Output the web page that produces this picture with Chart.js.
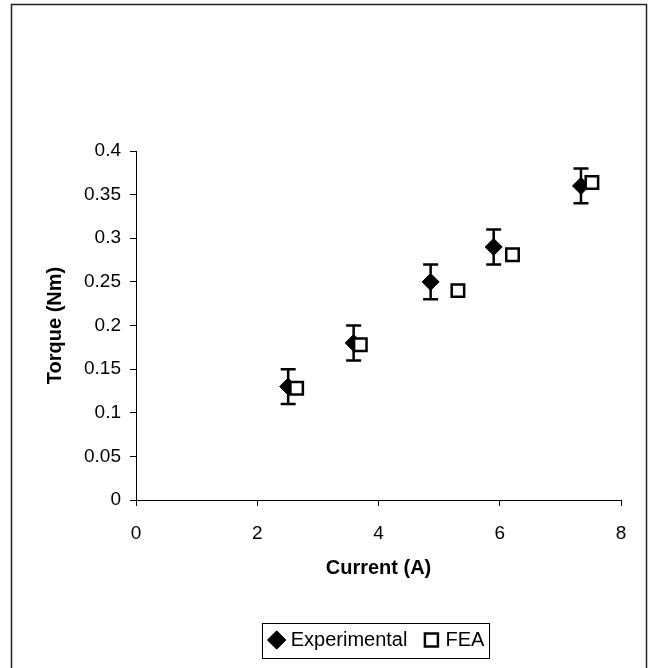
<!DOCTYPE html>
<html lang="en">
<head>
  <meta charset="UTF-8" />
  <title>Torque vs Current</title>
  <script src="https://cdn.jsdelivr.net/npm/chart.js"></script>
  <style>
    body {
      margin: 0;
      background: #fff;
    }
    canvas {
      display: block;
    }
  </style>
</head>
<body>
  <canvas id="myChart" width="650" height="668"></canvas>

  <script>
    // experimental points (with +/- error)
    const expCurrent = [2.51, 3.59, 4.86, 5.90, 7.34];
    const expTorque = [0.13, 0.18, 0.25, 0.29, 0.36];
    const expError = [0.02, 0.02, 0.02, 0.02, 0.02];

    // FEA points
    const feaCurrent = [2.65, 3.70, 5.31, 6.21, 7.52];
    const feaTorque = [0.128, 0.178, 0.240, 0.281, 0.364];

    const xTicks = [0, 2, 4, 6, 8];
    const yTicks = [0, 0.05, 0.1, 0.15, 0.2, 0.25, 0.3, 0.35, 0.4];

    const fontName = "'Liberation Sans', Arial, sans-serif";

    function toPoints(xs, ys) {
      return xs.map((x, i) => ({ x: x, y: ys[i] }));
    }

    // error bars for the experimental set
    const errorBars = {
      id: 'errorBars',
      beforeDatasetsDraw(chart) {
        const ctx = chart.ctx;
        const xs = chart.scales.x;
        const ys = chart.scales.y;
        ctx.save();
        ctx.strokeStyle = '#000';
        ctx.lineWidth = 2.5;
        for (let i = 0; i < expCurrent.length; i++) {
          const px = xs.getPixelForValue(expCurrent[i]);
          const top = ys.getPixelForValue(expTorque[i] + expError[i]);
          const bot = ys.getPixelForValue(expTorque[i] - expError[i]);
          ctx.beginPath();
          ctx.moveTo(px, top);
          ctx.lineTo(px, bot);
          ctx.moveTo(px - 7.5, top);
          ctx.lineTo(px + 7.5, top);
          ctx.moveTo(px - 7.5, bot);
          ctx.lineTo(px + 7.5, bot);
          ctx.stroke();
        }
        ctx.restore();
      }
    };

    // outer frame and legend box
    const frames = {
      id: 'frames',
      afterDraw(chart) {
        const ctx = chart.ctx;
        ctx.save();
        ctx.strokeStyle = '#222';
        ctx.lineWidth = 1.5;
        ctx.strokeRect(11.5, 4.5, 635, 700);

        const boxes = chart.legend.legendHitBoxes;
        if (boxes && boxes.length) {
          let l = Infinity, r = -Infinity, t = Infinity, b = -Infinity;
          boxes.forEach(hb => {
            l = Math.min(l, hb.left);
            r = Math.max(r, hb.left + hb.width);
            t = Math.min(t, hb.top);
            b = Math.max(b, hb.top + hb.height);
          });
          ctx.lineWidth = 1;
          ctx.strokeStyle = '#000';
          ctx.strokeRect(Math.round(l - 11) + 0.5, Math.round(t - 7) + 0.5,
                         Math.round(r - l + 15), Math.round(b - t + 15));
        }
        ctx.restore();
      }
    };

    const ctx = document.getElementById('myChart').getContext('2d');
    const chart = new Chart(ctx, {
      type: 'scatter',
      data: {
        datasets: [
          {
            label: 'Experimental',
            data: toPoints(expCurrent, expTorque),
            pointStyle: 'rectRot',
            pointRadius: 8.5,
            pointHoverRadius: 8.5,
            backgroundColor: '#000',
            borderColor: '#000',
            borderWidth: 1,
            order: 1
          },
          {
            label: 'FEA',
            data: toPoints(feaCurrent, feaTorque),
            pointStyle: 'rect',
            pointRadius: 8.8,
            pointHoverRadius: 8.8,
            backgroundColor: '#fff',
            borderColor: '#000',
            borderWidth: 2.5,
            order: 0
          }
        ]
      },
      options: {
        responsive: false,
        animation: false,
        events: [],
        layout: {
          padding: { top: 151, right: 29, bottom: 8, left: 0 }
        },
        plugins: {
          tooltip: { enabled: false },
          legend: {
            position: 'bottom',
            fullSize: false,
            labels: {
              usePointStyle: true,
              boxWidth: 8,
              boxHeight: 13,
              padding: 20,
              color: '#000',
              font: { family: fontName, size: 20 },
              sort: (a, b) => a.datasetIndex - b.datasetIndex
            }
          }
        },
        scales: {
          x: {
            type: 'linear',
            min: 0,
            max: 8,
            afterFit: (scale) => { scale.height = 110; },
            afterBuildTicks: (scale) => { scale.ticks = xTicks.map(v => ({ value: v })); },
            grid: { drawOnChartArea: false, tickLength: 6, color: '#000' },
            border: { color: '#000', width: 1 },
            ticks: {
              color: '#000',
              padding: 16,
              font: { family: fontName, size: 19 }
            },
            title: {
              display: true,
              text: 'Current (A)',
              color: '#000',
              padding: { top: 8, bottom: 30 },
              font: { family: fontName, size: 20, weight: 'bold' }
            }
          },
          y: {
            type: 'linear',
            min: 0,
            max: 0.4,
            afterFit: (scale) => { scale.width = 136; },
            afterBuildTicks: (scale) => { scale.ticks = yTicks.map(v => ({ value: v })); },
            grid: { drawOnChartArea: false, tickLength: 6, color: '#000' },
            border: { color: '#000', width: 1 },
            ticks: {
              color: '#000',
              padding: 9,
              font: { family: fontName, size: 19 },
              callback: (v) => String(+v.toFixed(2))
            },
            title: {
              display: true,
              text: 'Torque (Nm)',
              color: '#000',
              padding: { top: 43, bottom: 0 },
              font: { family: fontName, size: 20, weight: 'bold' }
            }
          }
        }
      },
      plugins: [errorBars, frames]
    });
  </script>
</body>
</html>
